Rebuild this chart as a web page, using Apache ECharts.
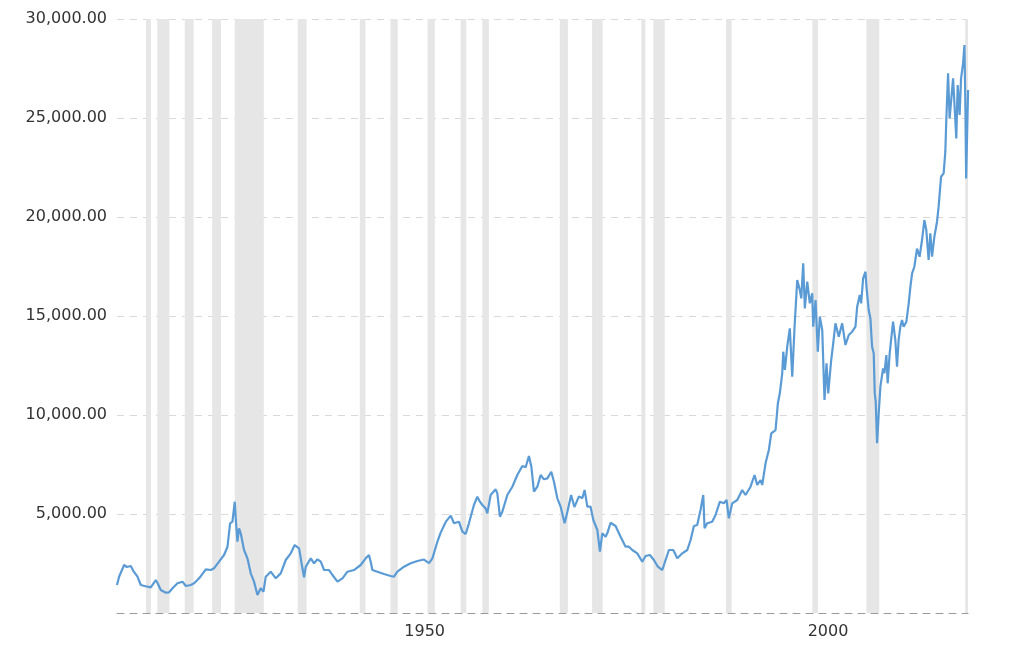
<!DOCTYPE html>
<html>
<head>
<meta charset="utf-8">
<script src="https://cdn.jsdelivr.net/npm/echarts@6/dist/echarts.min.js"></script>
<style>html,body{margin:0;padding:0;background:#fff}#c{width:1024px;height:646px}</style>
</head>
<body>
<div id="c"></div>
<script>
// Decimal years and inflation-adjusted index values
const years = [1915.00,1915.26,1915.88,1916.22,1916.71,1917.08,1917.54,1917.95,1918.78,1919.19,1919.81,1920.02,1920.43,1921.05,1921.46,1921.88,1922.50,1923.12,1923.53,1924.15,1924.56,1925.18,1926.01,1926.63,1927.03,1927.65,1928.27,1928.70,1929.02,1929.31,1929.60,1929.76,1929.93,1930.13,1930.34,1930.75,1931.17,1931.58,1931.99,1932.41,1932.82,1933.16,1933.44,1934.06,1934.68,1935.30,1935.92,1936.54,1937.03,1937.57,1937.99,1938.19,1938.40,1939.02,1939.43,1939.85,1940.26,1940.67,1941.29,1941.71,1942.33,1942.95,1943.57,1944.38,1945.21,1945.83,1946.24,1946.45,1946.66,1947.28,1948.10,1948.93,1949.34,1949.76,1950.58,1951.41,1952.24,1953.06,1953.68,1954.10,1954.72,1955.13,1955.75,1956.37,1956.78,1957.39,1957.82,1958.22,1958.63,1959.25,1959.67,1959.99,1960.29,1960.70,1960.91,1961.32,1961.94,1962.15,1962.47,1962.77,1963.39,1964.01,1964.63,1965.25,1965.66,1966.07,1966.37,1966.69,1967.11,1967.52,1967.93,1968.35,1968.84,1969.17,1969.59,1970.00,1970.21,1970.49,1970.83,1971.30,1971.70,1972.27,1972.69,1972.97,1973.31,1973.71,1974.05,1974.55,1974.87,1975.16,1975.57,1975.78,1976.19,1976.81,1977.43,1978.05,1978.46,1978.88,1979.50,1980.12,1980.53,1981.06,1981.56,1982.05,1982.60,1983.01,1983.42,1983.96,1984.46,1985.08,1985.70,1986.11,1986.52,1986.93,1987.34,1987.68,1987.84,1988.17,1988.79,1989.20,1989.74,1990.23,1990.57,1990.85,1991.27,1991.89,1992.51,1992.92,1993.54,1994.04,1994.37,1994.78,1994.99,1995.40,1995.81,1996.11,1996.64,1996.93,1997.17,1997.47,1997.60,1997.80,1998.09,1998.41,1998.71,1999.00,1999.33,1999.65,1999.83,2000.07,2000.27,2000.57,2000.89,2001.19,2001.31,2001.60,2001.88,2002.13,2002.43,2002.71,2002.96,2003.17,2003.54,2003.79,2004.07,2004.48,2004.90,2005.31,2005.72,2006.14,2006.55,2006.76,2007.08,2007.25,2007.50,2007.79,2007.91,2008.19,2008.40,2008.61,2008.81,2008.94,2009.06,2009.23,2009.43,2009.64,2009.97,2010.13,2010.38,2010.54,2010.79,2010.96,2011.21,2011.49,2011.70,2011.90,2012.11,2012.32,2012.52,2012.86,2013.15,2013.36,2013.57,2013.85,2014.18,2014.50,2014.80,2015.09,2015.33,2015.62,2015.83,2016.04,2016.33,2016.66,2016.86,2017.16,2017.48,2017.69,2017.81,2018.03,2018.22,2018.40,2018.65,2018.84,2019.05,2019.22,2019.46,2019.64,2019.89,2020.06,2020.18,2020.27,2020.51];
const values = [1414,1833,2424,2323,2373,2086,1833,1414,1328,1297,1666,1515,1161,1025,1045,1247,1500,1581,1363,1414,1500,1752,2207,2171,2257,2591,2929,3348,4530,4611,5621,4530,3601,4277,4025,3182,2762,2005,1581,909,1247,1076,1833,2086,1752,2000,2677,3014,3434,3266,2257,1803,2338,2762,2510,2712,2591,2171,2171,1919,1581,1752,2086,2171,2424,2762,2929,2591,2171,2086,1970,1869,1833,2086,2338,2510,2626,2700,2520,2762,3600,4060,4600,4920,4530,4611,4106,3990,4530,5454,5873,5621,5454,5285,5033,5959,6245,6043,4865,5117,5959,6378,6969,7424,7358,7929,7388,6126,6378,6969,6752,6802,7136,6631,5792,5369,5285,4530,5100,5959,5350,5890,5792,6211,5369,5369,4697,4192,3096,4025,3853,4025,4560,4394,3853,3348,3348,3182,3014,2591,2879,2929,2677,2338,2171,2677,3182,3182,2762,3014,3182,3687,4394,4444,5202,5959,4277,4530,4611,4949,5621,5540,5707,4782,5540,5707,6211,5959,6378,6969,6464,6717,6464,7560,8232,9074,9242,10590,11095,12105,13196,12272,13449,14378,11933,14459,16817,16312,15892,17660,15387,16733,15640,16145,14459,15807,13196,14964,14292,10757,12610,11095,12777,13620,14630,13954,14630,13534,14039,14206,14459,15467,16059,15640,16902,17236,16480,15302,14883,13449,13114,11095,10673,8570,10085,11431,12356,12105,13029,11600,13114,13196,14711,13787,12438,13787,14459,14796,14459,14711,15640,16480,17155,17488,18400,17993,18837,19847,19342,17827,19174,17993,19005,19763,20520,22035,22203,23300,24897,27254,24981,24897,27002,25568,23971,26664,25149,27002,27759,28684,25401,21950,26412];
// Recession periods (start, end) in decimal years
const recessionStarts = [1918.6,1920.0,1923.4,1926.8,1929.6,1937.4,1945.1,1948.9,1953.5,1957.6,1960.3,1969.9,1973.9,1980.0,1981.5,1990.5,2001.2,2007.9,2020.15];
const recessionEnds   = [1919.2,1921.5,1924.5,1927.9,1933.2,1938.5,1945.8,1949.8,1954.4,1958.3,1961.1,1970.9,1975.2,1980.5,1982.9,1991.2,2001.9,2009.5,2020.5];
const xTickLabels = [1950, 2000];
const yTicks = [0, 5000, 10000, 15000, 20000, 25000, 30000];

const lineData = years.map((y, i) => [y, values[i]]);
const bands = recessionStarts.map((s, i) => [{xAxis: s}, {xAxis: recessionEnds[i]}]);

function fmt(v) {
  const parts = Math.round(v).toString().replace(/\B(?=(\d{3})+(?!\d))/g, ',');
  return parts + '.00';
}

const chart = echarts.init(document.getElementById('c'), null, {renderer: 'canvas'});
chart.setOption({
  animation: false,
  grid: {left: 117, right: 56, top: 19, bottom: 33, containLabel: false},
  xAxis: {
    type: 'value', min: 1915, max: 2020.5,
    axisLine: {show: true, lineStyle: {color: '#9a9a9a', width: 1, type: [7, 6]}},
    axisTick: {show: false},
    splitLine: {show: false},
    axisLabel: {
      customValues: xTickLabels,
      align: 'left', padding: [0, 0, 0, 5], margin: 11,
      fontFamily: 'DejaVu Sans', fontSize: 16, color: '#333',
      formatter: v => String(Math.round(v))
    }
  },
  yAxis: {
    type: 'value', min: yTicks[0], max: yTicks[yTicks.length - 1], interval: 5000,
    axisLine: {show: false}, axisTick: {show: false},
    splitLine: {show: true, lineStyle: {color: '#d9d9d9', width: 1, type: [7, 6]}},
    axisLabel: {
      showMinLabel: false, margin: 10,
      fontFamily: 'DejaVu Sans', fontSize: 16, color: '#333',
      formatter: v => fmt(v)
    }
  },
  series: [
    {
      type: 'line', data: [], z: 1, silent: true,
      markArea: {silent: true, itemStyle: {color: '#e6e6e6'}, data: bands}
    },
    {
      type: 'line', data: lineData, z: 3, showSymbol: false, symbol: 'none',
      lineStyle: {color: '#5b9bd5', width: 2.2}, smooth: false
    }
  ]
});
</script>
</body>
</html>
